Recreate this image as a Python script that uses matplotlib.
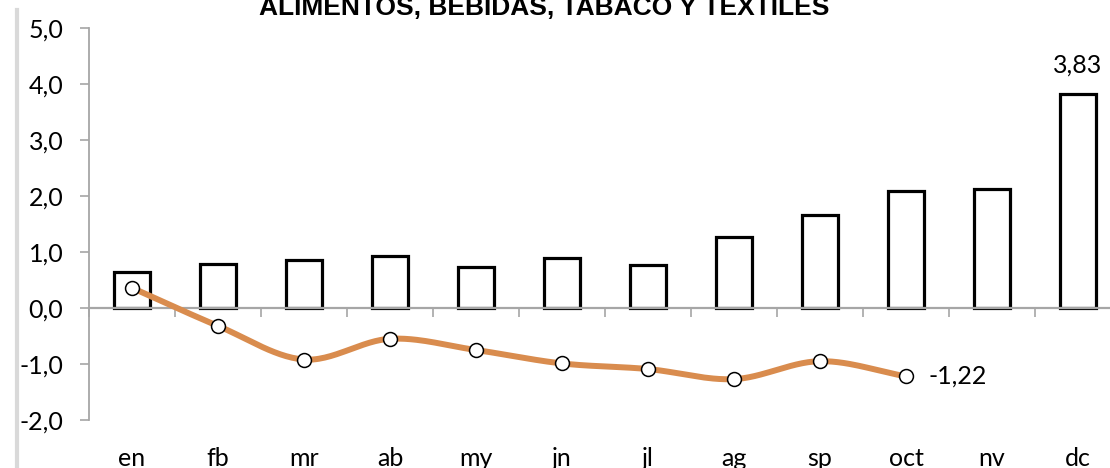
import numpy as np
import matplotlib
matplotlib.use('Agg')
import matplotlib.pyplot as plt
from matplotlib.ticker import FuncFormatter, FixedLocator
from matplotlib.lines import Line2D
import matplotlib.transforms as mtransforms

meses = ['en', 'fb', 'mr', 'ab', 'my', 'jn', 'jl', 'ag', 'sp', 'oct', 'nv', 'dc']
# barras: serie anterior (12 meses)
barras = [0.65, 0.78, 0.85, 0.93, 0.73, 0.89, 0.76, 1.26, 1.66, 2.09, 2.13, 3.83]
# linea: serie actual (hasta octubre)
linea = [0.36, -0.32, -0.92, -0.55, -0.75, -0.99, -1.09, -1.27, -0.95, -1.22]

titulo = 'ALIMENTOS, BEBIDAS, TABACO Y TEXTILES'

gris = '#a6a6a6'
naranja = '#d98c4e'
fuente = 'Lato'
tam = 18


def suavizar(x, y, n=30):
    # curva suave tipo catmull-rom que pasa por todos los puntos
    x = np.asarray(x, float)
    y = np.asarray(y, float)
    px = np.concatenate([[2 * x[0] - x[1]], x, [2 * x[-1] - x[-2]]])
    py = np.concatenate([[2 * y[0] - y[1]], y, [2 * y[-1] - y[-2]]])
    xs, ys = [], []
    for i in range(1, len(px) - 2):
        t = np.linspace(0, 1, n)
        mx0 = (px[i + 1] - px[i - 1]) / 2
        mx1 = (px[i + 2] - px[i]) / 2
        my0 = (py[i + 1] - py[i - 1]) / 2
        my1 = (py[i + 2] - py[i]) / 2
        h00 = 2 * t**3 - 3 * t**2 + 1
        h10 = t**3 - 2 * t**2 + t
        h01 = -2 * t**3 + 3 * t**2
        h11 = t**3 - t**2
        xs.append(h00 * px[i] + h10 * mx0 + h01 * px[i + 1] + h11 * mx1)
        ys.append(h00 * py[i] + h10 * my0 + h01 * py[i + 1] + h11 * my1)
    return np.concatenate(xs), np.concatenate(ys)


fig = plt.figure(figsize=(11.1, 4.68), dpi=100)
fig.patch.set_facecolor('white')
ax = fig.add_axes([89 / 1110, 48 / 468, 1032 / 1110, 392 / 468])

x = np.arange(len(meses))
ax.bar(x, barras, width=0.41, facecolor='white', edgecolor='black',
       linewidth=2.3, zorder=2)

xl = np.arange(len(linea))
sx, sy = suavizar(xl, linea)
ax.plot(sx, sy, color=naranja, lw=4.3, solid_capstyle='round', zorder=3)
ax.plot(xl, linea, 'o', ms=10, mfc='white', mec='black', mew=1.1, zorder=4)

ax.set_xlim(-0.5, 11.5)
ax.set_ylim(-2, 5)

for s in ['top', 'right']:
    ax.spines[s].set_visible(False)
ax.spines['left'].set_color(gris)
ax.spines['left'].set_linewidth(1.3)
ax.spines['bottom'].set_position(('data', 0))
ax.spines['bottom'].set_color(gris)
ax.spines['bottom'].set_linewidth(1.6)
ax.spines['bottom'].set_zorder(2.5)

ax.set_yticks(np.arange(-2, 5.1, 1))
ax.yaxis.set_major_formatter(FuncFormatter(lambda v, p: ('%.1f' % v).replace('.', ',')))
ax.tick_params(axis='y', direction='out', length=6.5, width=1.2, color=gris,
               pad=12, labelsize=tam)
for lab in ax.get_yticklabels():
    lab.set_fontfamily(fuente)

ax.xaxis.set_major_locator(FixedLocator(x))
ax.xaxis.set_minor_locator(FixedLocator(np.arange(-0.5, 12, 1)))
ax.tick_params(axis='x', which='major', direction='in', length=4.5, width=1.2,
               color=gris, labelbottom=False)
ax.tick_params(axis='x', which='minor', direction='out', length=6.5, width=1.2,
               color=gris)

# etiquetas de meses abajo del grafico
trans = mtransforms.blended_transform_factory(ax.transData, ax.transAxes)
for i, m in enumerate(meses):
    ax.text(i, -0.117, m, transform=trans, ha='center', va='baseline',
            fontsize=tam, family=fuente, clip_on=False)

ax.annotate(('%.2f' % barras[-1]).replace('.', ','), (x[-1], barras[-1]),
            xytext=(0, 12), textcoords='offset points', ha='center',
            va='bottom', fontsize=tam, family=fuente)
ax.annotate(('%.2f' % linea[-1]).replace('.', ','), (xl[-1], linea[-1]),
            xytext=(16, 0), textcoords='offset points', ha='left',
            va='center', fontsize=tam, family=fuente)

fig.text(544 / 1110, 1 - 15 / 468, titulo, ha='center', va='baseline',
         fontsize=19, fontweight='bold', family='Liberation Sans')

# borde gris a la izquierda
fig.add_artist(Line2D([16.5 / 1110, 16.5 / 1110], [0, 1 - 10 / 468],
                      transform=fig.transFigure, color='#d9d9d9', lw=3))

fig.savefig('out.png', dpi=100, facecolor='white')
